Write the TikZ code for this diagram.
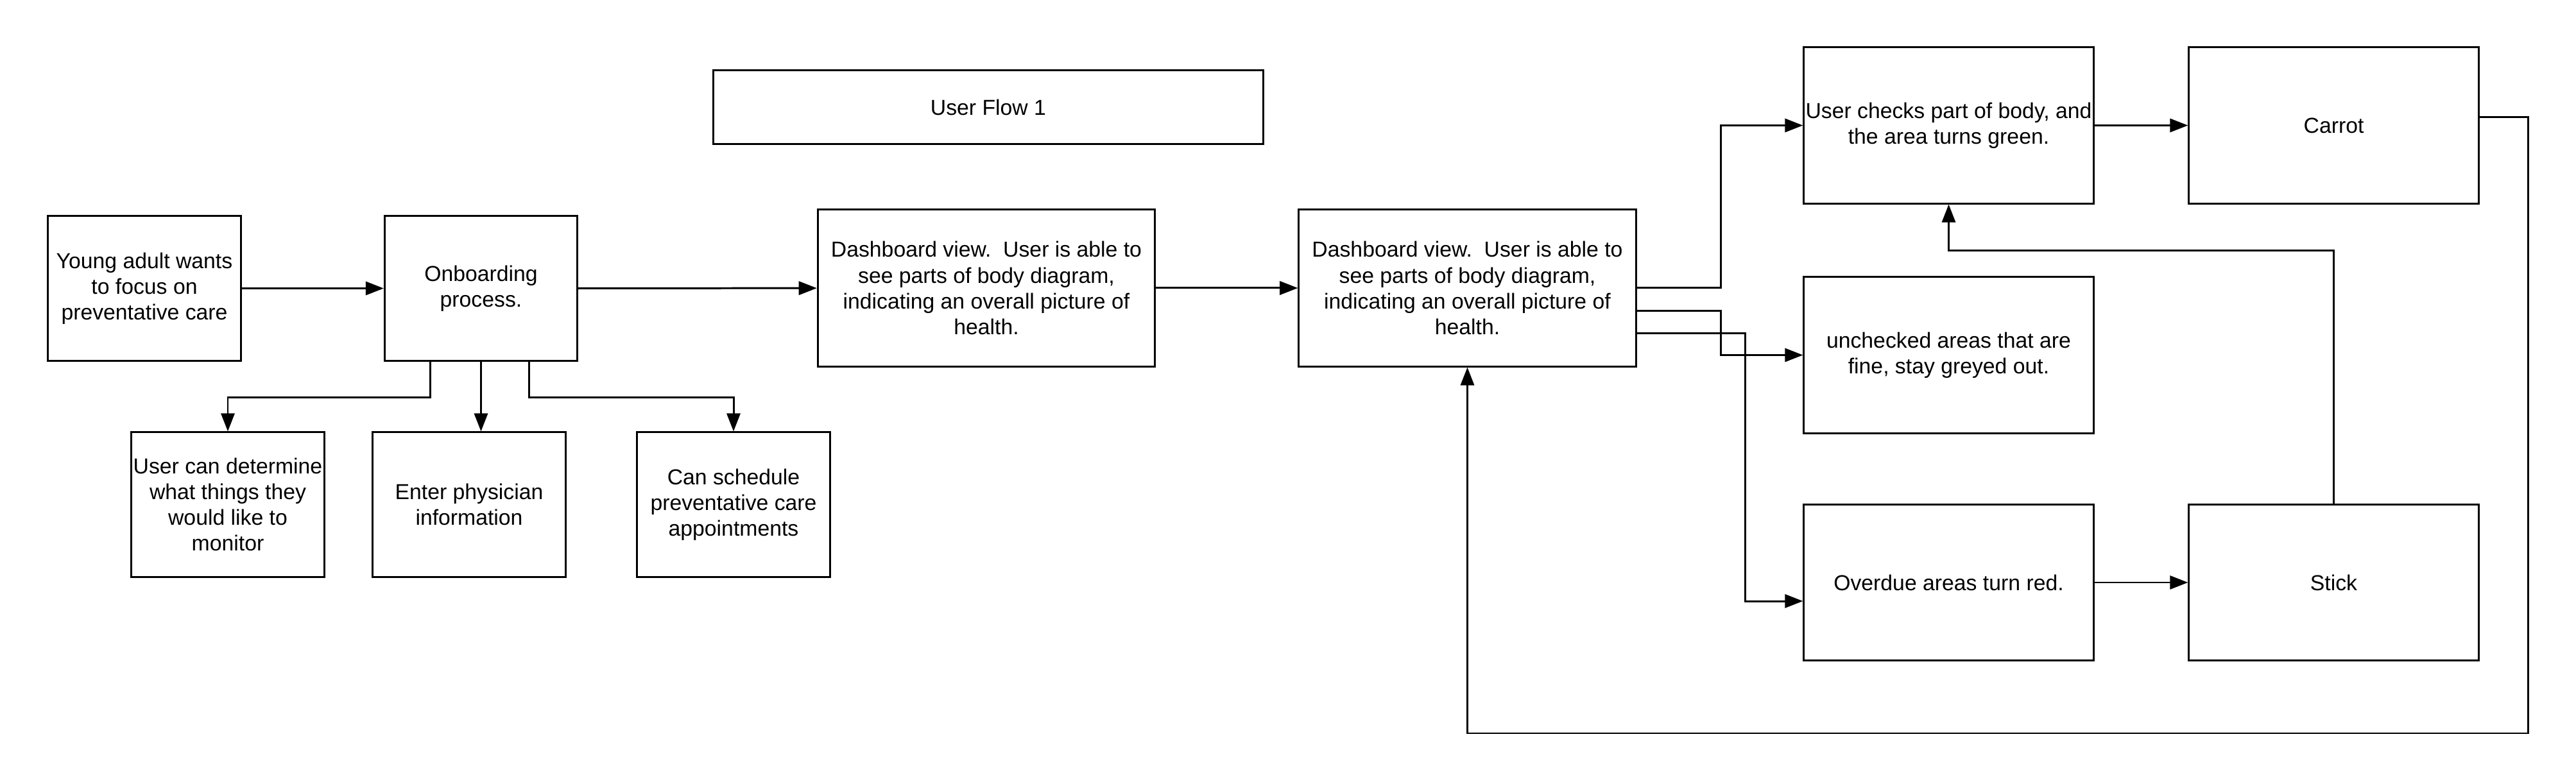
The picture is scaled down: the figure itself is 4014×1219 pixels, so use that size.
\documentclass[tikz,border=0pt]{standalone}
\usepackage{fontspec}
\setmainfont{Liberation Sans}
\usetikzlibrary{arrows.meta}
\tikzset{
  box/.style={draw, line width=0.85pt, align=center, inner sep=0pt,
    font=\fontsize{9.6}{11.4}\selectfont},
  smallbox/.style={box, minimum width=3cm, minimum height=2.25cm},
  widebox/.style={box, minimum width=5.25cm, minimum height=2.44cm},
  midbox/.style={box, minimum width=4.51cm, minimum height=2.43cm},
  arr/.style={line width=0.85pt, -{Triangle[length=8pt,width=6pt]}}
}

\begin{document}
\begin{tikzpicture}[x=0.01cm,y=-0.01cm]
  \useasboundingbox (0,0) rectangle (4014,1219);

  %title
  \node[box, minimum width=8.56cm, minimum height=1.14cm] (title) at (1540,167) {User Flow 1};

  %onboarding row
  \node[smallbox] (young) at (225,449.5) {Young adult wants\\to focus on\\preventative care};
  \node[smallbox] (onb) at (749.5,449.5) {Onboarding\\process.};
  \node[widebox] (dashA) at (1537,449) {Dashboard view.\ \ User is able to\\see parts of body diagram,\\indicating an overall picture of\\health.};
  \node[widebox] (dashB) at (2286.5,449) {Dashboard view.\ \ User is able to\\see parts of body diagram,\\indicating an overall picture of\\health.};

  %onboarding steps
  \node[smallbox] (determine) at (355,786.5) {User can determine\\what things they\\would like to\\monitor};
  \node[smallbox] (physician) at (731,786.5) {Enter physician\\information};
  \node[smallbox] (schedule) at (1143,786.5) {Can schedule\\preventative care\\appointments};

  %body areas
  \node[midbox] (checks) at (3036.5,195.5) {User checks part of body, and\\the area turns green.};
  \node[midbox] (carrot) at (3636.5,195.5) {Carrot};
  \node[midbox] (unchecked) at (3036.5,553.5) {unchecked areas that are\\fine, stay greyed out.};
  \node[midbox] (overdue) at (3036.5,908) {Overdue areas turn red.};
  \node[midbox] (stick) at (3636.5,908) {Stick};
  \coordinate (loop) at (3939,1143);

  %main flow
  \draw[arr] (young) -- (onb);
  \draw[arr] (onb) -- (dashA);
  \draw[arr] (dashA) -- (dashB);
  \draw[arr] ([xshift=-0.785cm]onb.south) -- ++(0,56) -| (determine.north);
  \draw[arr] (onb.south) -- (onb.south |- physician.north);
  \draw[arr] ([xshift=0.745cm]onb.south) -- ++(0,56) -| (schedule.north);

  %dashboard branches
  \draw[arr] (dashB.east) -- ++(131,0) |- (checks.west);
  \draw[arr] ([yshift=-0.35cm]dashB.east) -- ++(131,0) |- (unchecked.west);
  \draw[arr] ([yshift=-0.70cm]dashB.east) -- ++(169,0) |- ([yshift=-0.29cm]overdue.west);
  \draw[arr] (checks) -- (carrot);
  \draw[arr] (overdue) -- (stick);
  \draw[arr] (stick.north) -- ++(0,-394) -| (checks.south);
  \draw[arr] ([yshift=0.125cm]carrot.east) -| (loop) -| (dashB.south);
\end{tikzpicture}
\end{document}
